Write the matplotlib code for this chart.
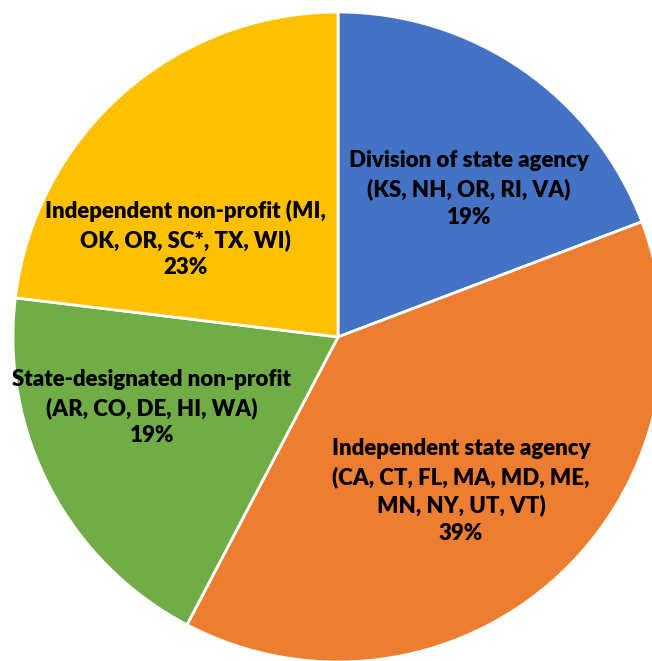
import matplotlib
matplotlib.use("Agg")
import matplotlib.pyplot as plt

# state-run structure of the programs (number of states in each group)
groups = ["Division of state agency", "Independent state agency",
          "State-designated non-profit", "Independent non-profit"]
states = ["(KS, NH, OR, RI, VA)",
          "(CA, CT, FL, MA, MD, ME,\nMN, NY, UT, VT)",
          "(AR, CO, DE, HI, WA)",
          "(MI,\nOK, OR, SC*, TX, WI)"]
counts = [5, 10, 5, 6]
pct_labels = ["19%", "39%", "19%", "23%"]
colors = ["#4472C4", "#ED7D31", "#70AD47", "#FFC000"]

# where the label blocks sit (axes fraction)
label_pos = [(0.719, 0.714), (0.707, 0.257), (0.233, 0.383), (0.285, 0.638)]

fig = plt.figure(figsize=(6.52, 6.61), dpi=100)
ax = fig.add_axes([0, 0, 1, 1])

ax.pie(counts, colors=colors, startangle=90, counterclock=False, radius=1,
       wedgeprops=dict(edgecolor="white", linewidth=2))
ax.set_aspect("auto")
ax.set_xlim(-338 / 325, 314 / 325)
ax.set_ylim(-324 / 325, 337 / 325)
ax.axis("off")

for i in range(len(groups)):
    if i == 3:
        txt = groups[i] + " " + states[i] + "\n" + pct_labels[i]
    else:
        txt = groups[i] + "\n" + states[i] + "\n" + pct_labels[i]
    ax.text(label_pos[i][0], label_pos[i][1], txt, transform=ax.transAxes,
            ha="center", va="center", fontsize=16, fontweight="heavy",
            family=["Lato", "DejaVu Sans"], linespacing=1.38, color="black")

fig.savefig("out.png", dpi=100)
